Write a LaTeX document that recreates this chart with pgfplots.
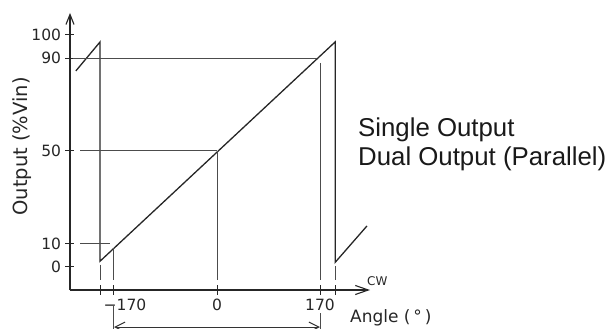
\documentclass[border=0pt]{standalone}
\usepackage{pgfplots}
\pgfplotsset{compat=1.18}
\usepackage{fontspec}
\setmainfont{DejaVu Sans}
\newfontfamily\arialf{Liberation Sans}
\usetikzlibrary{arrows.meta}
\begin{document}
\begin{tikzpicture}
\begin{axis}[
  at={(0,0)}, anchor=south west,
  scale only axis, width=300bp, height=277bp,
  xmin=-242.6, xmax=252.5, ymin=-9.914, ymax=109.48,
  axis lines=left,
  x axis line style={line width=1.1bp, black!85, -{Straight Barb[length=13bp,width=9bp]}},
  y axis line style={line width=1.1bp, black!85, -{Straight Barb[length=10bp,width=8bp]}},
  xtick={-193,-170,0,170,195},
  xticklabels={,\hspace*{22bp}−170,0,170,},
  ytick={0,10,50,90,100},
  yticklabels={0,10,50,90,100},
  tick align=center, major tick length=9bp,
  tick style={line width=1bp, black!85},
  tick label style={font=\fontsize{15.5bp}{18bp}\selectfont, text=black!85},
  yticklabel style={xshift=-1bp},
  xticklabel style={yshift=-1bp},
  clip=false,
]
% main output curve
\addplot[black!85, line width=1.3bp] coordinates {(-233,84.5) (-193,97) (-193,2.5) (195,97) (195,2) (247.5,17.7)};
% guide lines
\addplot[black!70, line width=1bp] coordinates {(-237,90) (165,90)};
\addplot[black!70, line width=1bp] coordinates {(-226,50) (0,50)};
\addplot[black!70, line width=1bp] coordinates {(-226,10) (-176,10)};
\addplot[black!70, line width=1bp] coordinates {(0,50) (0,-5.6)};
\addplot[black!70, line width=1bp] coordinates {(-170,8) (-170,-5.6)};
\addplot[black!70, line width=1bp] coordinates {(-170,-16.8) (-170,-28)};
\addplot[black!70, line width=1bp] coordinates {(170,88) (170,-5.6)};
\addplot[black!70, line width=1bp] coordinates {(170,-20) (170,-28)};
\addplot[black!70, line width=1bp] coordinates {(-193,1) (-193,-5.6)};
\addplot[black!70, line width=1bp] coordinates {(195,0.5) (195,-5.6)};
% dimension arrow
\addplot[black!80, line width=1bp, {Straight Barb[length=10bp,width=10bp]}-{Straight Barb[length=10bp,width=10bp]}] coordinates {(-170,-25.9) (170,-25.9)};
\end{axis}
\node[rotate=90, anchor=base, font=\fontsize{19.5bp}{22bp}\selectfont, text=black!85] at (-42bp,143.5bp) {Output (\%Vin)};
\node[anchor=base west, inner sep=0pt, font=\arialf\fontsize{25.8bp}{30bp}\selectfont, text=black!90] at (288bp,153bp) {Single Output};
\node[anchor=base west, inner sep=0pt, font=\arialf\fontsize{25.8bp}{30bp}\selectfont, text=black!90] at (288bp,124.5bp) {Dual Output (Parallel)};
\node[anchor=base west, inner sep=0pt, font=\fontsize{12bp}{14bp}\selectfont, text=black!85] at (297bp,5bp) {CW};
\node[anchor=base west, inner sep=0pt, font=\fontsize{17bp}{20bp}\selectfont, text=black!85] at (280bp,-32bp) {Angle (\,°\,)};
\pgfresetboundingbox
\useasboundingbox (-70bp,-39bp) rectangle (541bp,290bp);
\end{tikzpicture}
\end{document}
